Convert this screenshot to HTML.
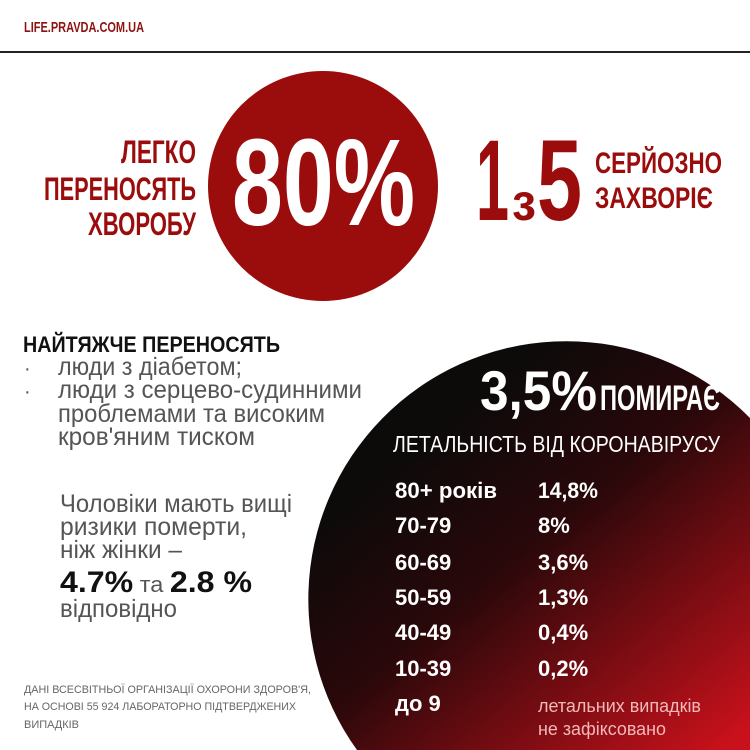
<!DOCTYPE html>
<html><head><meta charset="utf-8">
<style>html,body{margin:0;padding:0;background:#fff;width:750px;height:750px;overflow:hidden}svg{display:block}</style>
</head><body>
<svg width="750" height="750" viewBox="0 0 750 750" xmlns="http://www.w3.org/2000/svg">
<defs>
<linearGradient id="g" gradientUnits="userSpaceOnUse" x1="450" y1="420" x2="720" y2="750">
<stop offset="0" stop-color="#0d0a0a"/>
<stop offset="0.35" stop-color="#2a080a"/>
<stop offset="1" stop-color="#c8111b"/>
</linearGradient>
</defs>
<rect width="750" height="750" fill="#fff"/>
<g font-family="Liberation Sans, sans-serif" font-weight="bold" fill="#8e1212">
<text x="24" y="32" font-size="15" textLength="120" lengthAdjust="spacingAndGlyphs">LIFE.PRAVDA.COM.UA</text>
</g>
<line x1="0" y1="52" x2="750" y2="52" stroke="#222" stroke-width="2"/>
<circle cx="323" cy="186" r="115" fill="#9b0c0c"/>
<g font-family="Liberation Sans, sans-serif" font-weight="bold">
<text x="232" y="225" font-size="123" fill="#fff" textLength="183" lengthAdjust="spacingAndGlyphs">80%</text>
<g fill="#9b0c0c" font-size="32" text-anchor="end">
<text x="196" y="163" textLength="75" lengthAdjust="spacingAndGlyphs">ЛЕГКО</text>
<text x="196" y="200" textLength="152" lengthAdjust="spacingAndGlyphs">ПЕРЕНОСЯТЬ</text>
<text x="196" y="235" textLength="108" lengthAdjust="spacingAndGlyphs">ХВОРОБУ</text>
</g>
<g fill="#9b0c0c">
<text x="476" y="220" font-size="115" textLength="33" lengthAdjust="spacingAndGlyphs">1</text>
<text x="512" y="220" font-size="52" textLength="24" lengthAdjust="spacingAndGlyphs">з</text>
<text x="537" y="220" font-size="115" textLength="45" lengthAdjust="spacingAndGlyphs">5</text>
<text x="595" y="173" font-size="30" textLength="127" lengthAdjust="spacingAndGlyphs">СЕРЙОЗНО</text>
<text x="595" y="208" font-size="30" textLength="118" lengthAdjust="spacingAndGlyphs">ЗАХВОРІЄ</text>
</g>
</g>
<path d="M357,750 A258,258 0 0 1 750,418 L750,750 Z" fill="url(#g)"/>
<g font-family="Liberation Sans, sans-serif" fill="#fff">
<text x="480" y="410" font-size="56" font-weight="bold" textLength="117" lengthAdjust="spacingAndGlyphs">3,5%</text>
<text x="600" y="410" font-size="35" font-weight="bold" textLength="120" lengthAdjust="spacingAndGlyphs">ПОМИРАЄ</text>
<text x="393" y="452" font-size="23" textLength="327" lengthAdjust="spacingAndGlyphs">ЛЕТАЛЬНІСТЬ ВІД КОРОНАВІРУСУ</text>
<g font-size="22" font-weight="bold">
<text x="395" y="498" textLength="102" lengthAdjust="spacingAndGlyphs">80+ років</text><text x="538" y="498" textLength="60" lengthAdjust="spacingAndGlyphs">14,8%</text>
<text x="395" y="533">70-79</text><text x="538" y="533">8%</text>
<text x="395" y="570">60-69</text><text x="538" y="570">3,6%</text>
<text x="395" y="605">50-59</text><text x="538" y="605">1,3%</text>
<text x="395" y="640">40-49</text><text x="538" y="640">0,4%</text>
<text x="395" y="676">10-39</text><text x="538" y="676">0,2%</text>
<text x="395" y="711">до 9</text>
</g>
<g font-size="18" fill="#f3b8b8">
<text x="538" y="712" textLength="163" lengthAdjust="spacingAndGlyphs">летальних випадків</text>
<text x="538" y="735" textLength="128" lengthAdjust="spacingAndGlyphs">не зафіксовано</text>
</g>
</g>
<g font-family="Liberation Sans, sans-serif">
<text x="23" y="352" font-size="22" font-weight="bold" fill="#111" textLength="257" lengthAdjust="spacingAndGlyphs">НАЙТЯЖЧЕ ПЕРЕНОСЯТЬ</text>
<g fill="#555" font-size="25">
<text x="24" y="375" font-size="20">·</text>
<text x="24" y="398" font-size="20">·</text>
<text x="58" y="375" textLength="184" lengthAdjust="spacingAndGlyphs">люди з діабетом;</text>
<text x="58" y="398" textLength="304" lengthAdjust="spacingAndGlyphs">люди з серцево-судинними</text>
<text x="58" y="422" textLength="267" lengthAdjust="spacingAndGlyphs">проблемами та високим</text>
<text x="58" y="445" textLength="197" lengthAdjust="spacingAndGlyphs">кров'яним тиском</text>
<text x="60" y="512" textLength="232" lengthAdjust="spacingAndGlyphs">Чоловіки мають вищі</text>
<text x="60" y="535" textLength="187" lengthAdjust="spacingAndGlyphs">ризики померти,</text>
<text x="60" y="558" textLength="122" lengthAdjust="spacingAndGlyphs">ніж жінки –</text>
<text x="60" y="617" textLength="117" lengthAdjust="spacingAndGlyphs">відповідно</text>
</g>
<text x="60" y="592" font-size="30" fill="#111" textLength="192" lengthAdjust="spacingAndGlyphs"><tspan font-weight="bold">4.7%</tspan><tspan font-size="22" fill="#555"> та </tspan><tspan font-weight="bold">2.8 %</tspan></text>
<g fill="#666" font-size="11">
<text x="24" y="693" textLength="287" lengthAdjust="spacingAndGlyphs">ДАНІ ВСЕСВІТНЬОЇ ОРГАНІЗАЦІЇ ОХОРОНИ ЗДОРОВ'Я,</text>
<text x="24" y="710" textLength="272" lengthAdjust="spacingAndGlyphs">НА ОСНОВІ 55 924 ЛАБОРАТОРНО ПІДТВЕРДЖЕНИХ</text>
<text x="24" y="728" textLength="55" lengthAdjust="spacingAndGlyphs">ВИПАДКІВ</text>
</g>
</g>
</svg>
</body></html>
